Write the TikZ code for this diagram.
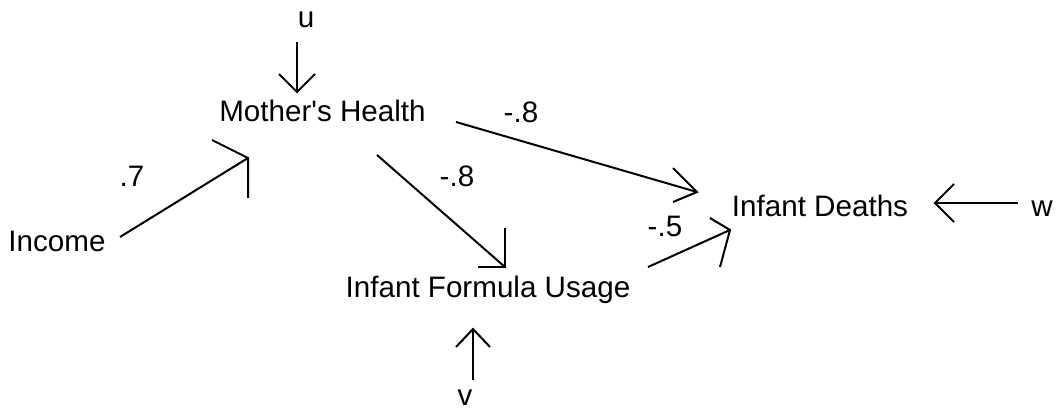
\documentclass[tikz,border=0pt]{standalone}
\usepackage{fontspec}
\setmainfont{Liberation Sans}[Ligatures=TeXOff]
\begin{document}
\begin{tikzpicture}[x=1pt,y=-1pt,
  lbl/.style={anchor=base, inner sep=0pt, font=\fontsize{29.6}{34}\selectfont},
  link/.style={line width=2pt, line join=miter},
  barb/.style={line width=2pt, line join=miter}]
\useasboundingbox (0,0) rectangle (1059,411);

% variables
\node[lbl] (u)   at (306,28)    {u};
\node[lbl] (mh)  at (322.5,122) {Mother's Health};
\node[lbl] (inc) at (57,252)    {Income};
\node[lbl] (ifu) at (488,298)   {Infant Formula Usage};
\node[lbl] (id)  at (820,217)   {Infant Deaths};
\node[lbl] (w)   at (1042,217)  {w};
\node[lbl] (v)   at (465,405)   {v};

% path coefficients
\node[lbl] (c1) at (132,187) {.7};
\node[lbl] (c2) at (521,123) {-.8};
\node[lbl] (c3) at (457,187) {-.8};
\node[lbl] (c4) at (665,237) {-.5};

% arrow end points and barbs
\coordinate (uS) at (297,42);   \coordinate (uT) at (297,92);
\coordinate (uA) at (279,74);   \coordinate (uB) at (315,74);

\coordinate (iS) at (120,237);  \coordinate (iT) at (248,158);
\coordinate (iA) at (212,140);  \coordinate (iB) at (248,198);

\coordinate (mfS) at (377,155); \coordinate (mfT) at (505,267);
\coordinate (mfA) at (478,267); \coordinate (mfB) at (505,228);

\coordinate (mdS) at (456,122); \coordinate (mdT) at (697,192);
\coordinate (mdA) at (673,168); \coordinate (mdB) at (673,202);

\coordinate (fdS) at (648,267); \coordinate (fdT) at (730,230);
\coordinate (fdA) at (710,218); \coordinate (fdB) at (720,267);

\coordinate (wS) at (1018,203); \coordinate (wT) at (935,203);
\coordinate (wA) at (954,184);  \coordinate (wB) at (954,222);

\coordinate (vS) at (473,380);  \coordinate (vT) at (473,329);
\coordinate (vA) at (456,347);  \coordinate (vB) at (490,347);

% shafts
\draw[link] (uS) -- (uT);
\draw[link] (iS) -- (iT);
\draw[link] (mfS) -- (mfT);
\draw[link] (mdS) -- (mdT);
\draw[link] (fdS) -- (fdT);
\draw[link] (wS) -- (wT);
\draw[link] (vS) -- (vT);

% heads
\draw[barb] (uA) -- (uT) -- (uB);
\draw[barb] (iA) -- (iT) -- (iB);
\draw[barb] (mfA) -- (mfT) -- (mfB);
\draw[barb] (mdA) -- (mdT) -- (mdB);
\draw[barb] (fdA) -- (fdT) -- (fdB);
\draw[barb] (wA) -- (wT) -- (wB);
\draw[barb] (vA) -- (vT) -- (vB);
\end{tikzpicture}
\end{document}
